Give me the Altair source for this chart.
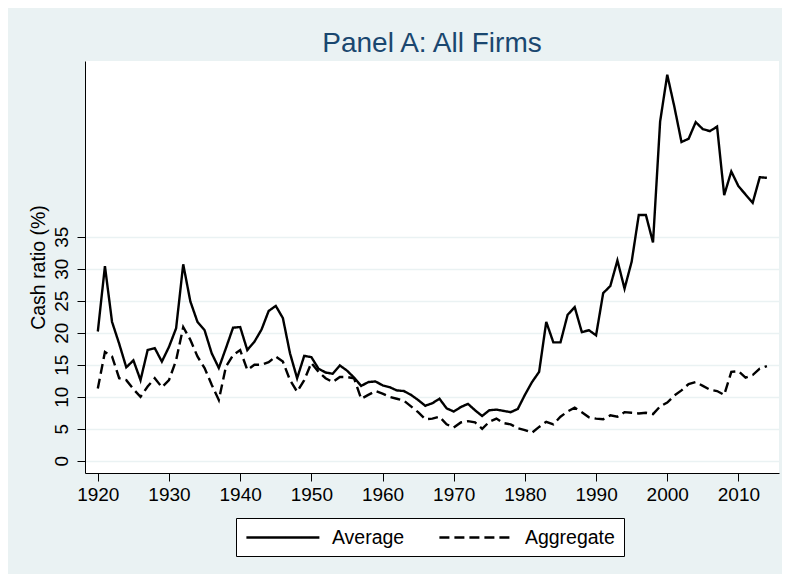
import altair as alt
import pandas as pd

years = list(range(1920, 2015))

average = [
    20.2, 30.4, 21.7, 18.3, 14.6, 15.7, 12.6, 17.3, 17.6, 15.5,
    17.8, 20.7, 30.7, 24.9, 21.7, 20.4, 16.8, 14.5, 17.6, 20.8,
    20.9, 17.3, 18.6, 20.5, 23.4, 24.2, 22.3, 16.8, 12.9, 16.4,
    16.2, 14.4, 13.8, 13.6, 14.9, 14.1, 13.0, 11.7, 12.3, 12.4,
    11.8, 11.5, 11.0, 10.9, 10.3, 9.5, 8.6, 9.0, 9.7, 8.2,
    7.7, 8.4, 8.9, 7.9, 7.0, 7.9, 8.0, 7.8, 7.6, 8.1,
    10.3, 12.3, 13.9, 21.7, 18.5, 18.5, 22.8, 24.0, 20.1, 20.4,
    19.6, 26.2, 27.3, 31.3, 26.9, 31.1, 38.4, 38.4, 34.1, 53.0,
    60.3, 55.3, 49.8, 50.3, 52.9, 51.8, 51.5, 52.2, 41.5, 45.2,
    42.9, 41.6, 40.3, 44.3, 44.2,
]

aggregate = [
    11.3, 17.0, 16.3, 12.9, 12.6, 11.2, 10.0, 11.6, 12.9, 11.5,
    12.6, 15.7, 20.9, 18.9, 16.3, 14.5, 11.9, 9.5, 14.7, 16.5,
    17.3, 14.2, 15.0, 15.0, 15.4, 16.3, 15.5, 12.6, 10.8, 12.6,
    15.3, 13.9, 12.9, 12.3, 13.1, 13.1, 12.9, 9.7, 10.3, 10.9,
    10.5, 10.0, 9.7, 9.4, 8.5, 7.6, 6.5, 6.6, 6.9, 5.7,
    5.2, 6.0, 6.2, 6.0, 5.0, 6.1, 6.6, 5.9, 5.7, 5.1,
    4.8, 4.4, 5.3, 6.1, 5.7, 6.9, 7.7, 8.3, 7.6, 6.8,
    6.6, 6.5, 7.1, 6.9, 7.6, 7.5, 7.4, 7.5, 7.3, 8.5,
    9.1, 10.2, 11.0, 12.0, 12.3, 11.7, 11.1, 10.9, 10.3, 13.9,
    14.0, 13.0, 13.4, 14.4, 14.8,
]

series_names = ["Average", "Aggregate"]
x_ticks = list(range(1920, 2020, 10))
y_ticks = list(range(0, 40, 5))

df = pd.concat([
    pd.DataFrame({"year": years, "value": average, "series": series_names[0]}),
    pd.DataFrame({"year": years, "value": aggregate, "series": series_names[1]}),
])

FONT = "Liberation Sans"

chart = alt.Chart(df).mark_line(strokeWidth=2.4, color="black", clip=True).encode(
    x=alt.X("year:Q",
            scale=alt.Scale(domain=[1918.2, 2015.7], nice=False, zero=False),
            axis=alt.Axis(values=x_ticks, format="d", title=None, grid=False,
                          tickSize=8, labelPadding=4, labelFontSize=19,
                          labelFont=FONT, labelColor="black",
                          domainColor="black", tickColor="black")),
    y=alt.Y("value:Q",
            scale=alt.Scale(domain=[-1.9, 62.45], nice=False, zero=False),
            axis=alt.Axis(values=y_ticks, title="Cash ratio (%)", grid=True,
                          gridColor="#EAF2F3", gridWidth=1.5,
                          tickSize=8, labelPadding=10, labelFontSize=19,
                          labelFont=FONT, labelColor="black",
                          labelAngle=270, labelAlign="center", labelBaseline="alphabetic",
                          titleFont=FONT, titleFontSize=19.5, titleFontWeight="normal",
                          titleColor="black", titleAngle=270, titleAlign="center",
                          titleBaseline="middle", titleX=-47, titleY=206,
                          domainColor="black", tickColor="black")),
    strokeDash=alt.StrokeDash("series:N",
                              scale=alt.Scale(domain=series_names, range=[[1, 0], [10, 5]]),
                              legend=alt.Legend(title=None, orient="none", direction="horizontal",
                                                legendX=151, legendY=457,
                                                fillColor="white", strokeColor="black",
                                                padding=9, symbolType="M-4,0H4",
                                                symbolSize=333, symbolOffset=27.4,
                                                symbolStrokeWidth=2.4,
                                                symbolStrokeColor="black",
                                                labelFontSize=19.5, labelFont=FONT,
                                                labelColor="black", labelOffset=38.5,
                                                columnPadding=29)),
).properties(
    width=694,
    height=412,
    title=alt.TitleParams("Panel A: All Firms", font=FONT, fontSize=28,
                          fontWeight="normal", color="#1A476F",
                          anchor="middle", baseline="alphabetic", offset=10, dy=29),
    background="#EAF2F3",
    padding={"left": 77, "top": 53, "right": 3, "bottom": 101},
    autosize=alt.AutoSizeParams(type="none"),
).configure_view(fill="white", stroke=None)

chart.save("out.html", embed_options={"renderer": "svg", "actions": False})
